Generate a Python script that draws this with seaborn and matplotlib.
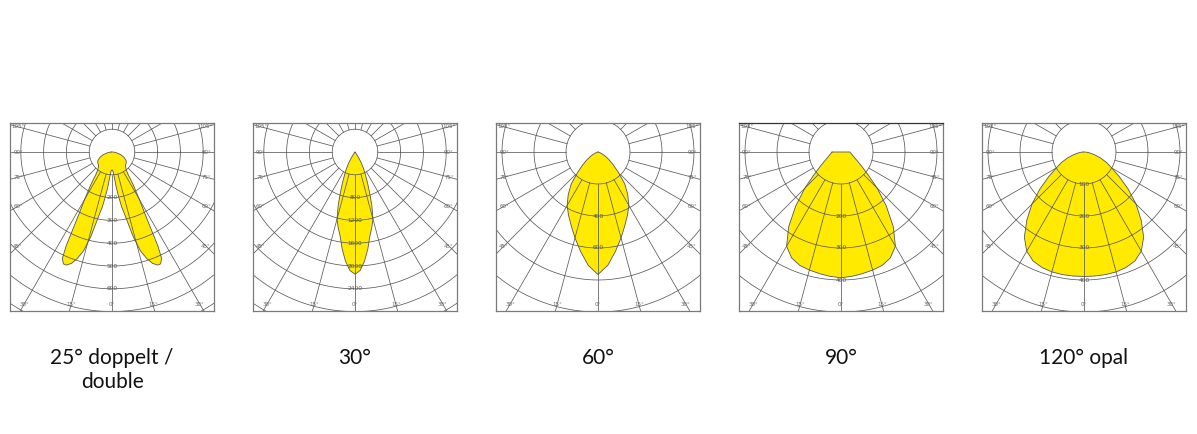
import numpy as np
import matplotlib
matplotlib.use("Agg")
import matplotlib.pyplot as plt
import seaborn as sns

sns.set_theme(style="white")
plt.rcParams['font.family'] = ['Lato', 'DejaVu Sans']

# ---------------- data ----------------
titles = ["25° doppelt /\ndouble", "30°", "60°", "90°", "120° opal"]
ring_steps = [100, 400, 200, 100, 100]          # cd per grid ring

gamma_25 = [0, 3, 5, 7, 8.5, 10, 12, 14, 16, 18, 20, 22, 23.5, 25, 26, 27, 28, 30,
            33, 36, 40, 45, 50, 55, 60, 67, 73, 79, 85, 90]
cd_25 = [78, 85, 110, 160, 200, 245, 295, 380, 450, 490, 520, 535, 535, 515, 460, 370,
         310, 240, 170, 117, 95, 83, 80, 77, 70, 56, 40, 22, 10, 3]

gamma_30 = [0, 2.5, 5, 7.5, 10, 12.5, 15, 17.5, 20, 22.5, 25, 27.5, 30, 32.5, 35, 37, 90]
cd_30 = [2144, 2080, 1920, 1720, 1500, 1360, 1220, 980, 740, 560, 420, 320, 220, 120,
         40, 0, 0]

gamma_60 = [0, 5, 10, 15, 20, 25, 30, 35, 40, 45, 50, 55, 60, 65, 70, 80, 90]
cd_60 = [766, 710, 630, 556, 490, 436, 386, 324, 260, 180, 124, 84, 54, 30, 14, 4, 0]

gamma_90 = [0, 5, 10, 15, 20, 25, 30, 35, 40, 45, 50, 55, 60, 65, 70, 75, 80, 85, 90]
cd_90 = [393, 390, 386, 382, 377, 365, 340, 285, 220, 160, 110, 80, 62, 50, 42, 37, 33,
         30, 28]

gamma_120 = [0, 5, 10, 15, 20, 25, 30, 35, 40, 45, 50, 55, 60, 65, 70, 75, 80, 85, 90]
cd_120 = [389, 389, 389, 388, 384, 376, 358, 325, 278, 230, 180, 135, 100, 78, 55, 35,
          20, 10, 3]

ring_labels = [[200, 300, 400, 500, 600],
               [800, 1200, 1600, 2000, 2400],
               [400, 600],
               [200, 300, 400],
               [100, 200, 300, 400]]

edge_angles = [45, 60, 75, 90, 105]      # labelled on left/right box edges
bottom_angles = [0, 15, 30]              # labelled on bottom edge

gammas = [gamma_25, gamma_30, gamma_60, gamma_90, gamma_120]
cds = [cd_25, cd_30, cd_60, cd_90, cd_120]

# ---------------- layout (pixels) ----------------
W, H = 1197, 434
box_lefts = [10, 253, 496, 739, 982]
box_w = 204
box_top, box_bot = 123, 311
center_y = 152
px_per_ring = [22.8, 22.8, 32.0, 32.0, 32.0]

YELLOW = "#FFEA00"
GRID = "#5a5a5a"
EDGE = "#7a7a7a"

fig = plt.figure(figsize=(W / 100, H / 100), dpi=100)
fig.patch.set_facecolor("white")

for i in range(5):
    ppr = px_per_ring[i]
    ax = fig.add_axes([box_lefts[i] / W, 1 - box_bot / H, box_w / W, (box_bot - box_top) / H])
    x0, x1 = -box_w / 2 / ppr, box_w / 2 / ppr
    y0, y1 = -(box_bot - center_y) / ppr, (center_y - box_top) / ppr
    ax.set_xlim(x0, x1)
    ax.set_ylim(y0, y1)
    ax.set_facecolor("white")
    ax.set_xticks([])
    ax.set_yticks([])
    for s in ax.spines.values():
        s.set_visible(True)
        s.set_color(EDGE)
        s.set_linewidth(0.9)
    if i == 3:
        ax.spines["top"].set_color("#333333")

    # light distribution (mirrored C0/C180 plane)
    g = np.asarray(gammas[i], float)
    r = np.asarray(cds[i], float) / ring_steps[i]
    gg = np.concatenate([-g[::-1], g[1:]])
    rr = np.concatenate([r[::-1], r[1:]])
    th = np.deg2rad(gg)
    xs = rr * np.sin(th)
    ys = -rr * np.cos(th)
    ax.fill(xs, ys, color=YELLOW, zorder=1, lw=0)
    ax.plot(np.append(xs, xs[0]), np.append(ys, ys[0]), color="#555555", lw=0.6, zorder=3)

    # grid: rings and radial lines
    t = np.linspace(0, 2 * np.pi, 400)
    for k in range(1, 12):
        ax.plot(k * np.cos(t), k * np.sin(t), color=GRID, lw=0.55, zorder=2)
    for a in range(0, 360, 15):
        ar = np.deg2rad(a)
        ax.plot([np.sin(ar), 12 * np.sin(ar)], [-np.cos(ar), -12 * np.cos(ar)],
                color=GRID, lw=0.55, zorder=2)

    # ring value labels along the 0° axis
    step = ring_steps[i]
    for v in ring_labels[i]:
        ax.text(0, -v / step, str(v), fontsize=4.2, color="#555555", ha="center",
                va="center", zorder=4, family=["DejaVu Sans"])

    # angle labels at the box edges
    inset_x = 8 / ppr
    inset_y = 7 / ppr
    for a in edge_angles:
        ar = np.deg2rad(a)
        for sgn in (-1, 1):
            dx, dy = sgn * np.sin(ar), -np.cos(ar)
            px_ = sgn * (x1 - inset_x)
            py_ = dy * (px_ / dx)
            ax.text(px_, py_, f"{a}°", fontsize=4.0, color="#666666", ha="center",
                    va="center", zorder=4, family=["DejaVu Sans"])
    for a in bottom_angles:
        ar = np.deg2rad(a)
        sides = (1,) if a == 0 else (-1, 1)
        for sgn in sides:
            dx, dy = sgn * np.sin(ar), -np.cos(ar)
            py_ = y0 + inset_y
            px_ = dx * (py_ / dy)
            ax.text(px_, py_, f"{a}°", fontsize=4.0, color="#666666", ha="center",
                    va="center", zorder=4, family=["DejaVu Sans"])

    # title under panel
    cx = box_lefts[i] + box_w / 2
    if "\n" in titles[i]:
        fig.text(cx / W, 1 - 370 / H, titles[i], ha="center", va="center",
                 fontsize=15, color="#111111", linespacing=1.25)
    else:
        fig.text(cx / W, 1 - 358 / H, titles[i], ha="center", va="center",
                 fontsize=15, color="#111111")

fig.savefig("out.png", dpi=100, facecolor="white")
